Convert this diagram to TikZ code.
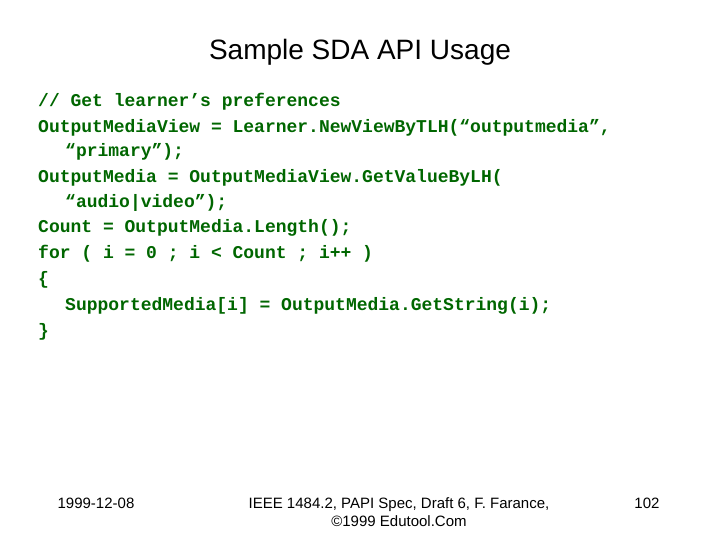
\documentclass[tikz,border=0pt]{standalone}
\usepackage{fontspec}
\setmainfont{Liberation Sans}
\newfontfamily\codefont{Liberation Mono}
\definecolor{codegreen}{RGB}{0,102,0}
\begin{document}
\begin{tikzpicture}[x=1pt,y=-1pt,
  code/.style={anchor=west,inner sep=0pt,text=codegreen,font=\codefont\bfseries\fontsize{18}{18}\selectfont},
  foot/.style={inner sep=0pt,font=\fontsize{15}{18}\selectfont,align=center}]
\useasboundingbox (0,0) rectangle (720,540);
\node[inner sep=0pt,font=\fontsize{28}{32}\selectfont] (title) at (360,52) {Sample SDA API Usage};
\node[code] (l1) at (38,102) {// Get learner’s preferences};
\node[code] (l2) at (38,128) {OutputMediaView = Learner.NewViewByTLH(“outputmedia”,};
\node[code] (l3) at (65,152) {“primary”);};
\node[code] (l4) at (38,178) {OutputMedia = OutputMediaView.GetValueByLH(};
\node[code] (l5) at (65,203) {“audio|video”);};
\node[code] (l6) at (38,228) {Count = OutputMedia.Length();};
\node[code] (l7) at (38,254) {for ( i = 0 ; i < Count ; i++ )};
\node[code] (l8) at (38,280) {\{};
\node[code] (l9) at (65,306) {SupportedMedia[i] = OutputMedia.GetString(i);};
\node[code] (l10) at (38,332) {\}};
\node[foot] (date) at (96,503) {1999-12-08};
\node[foot] (src) at (399,512) {IEEE 1484.2, PAPI Spec, Draft 6, F. Farance,\\©1999 Edutool.Com};
\node[foot] (page) at (647,503) {102};
\end{tikzpicture}
\end{document}
